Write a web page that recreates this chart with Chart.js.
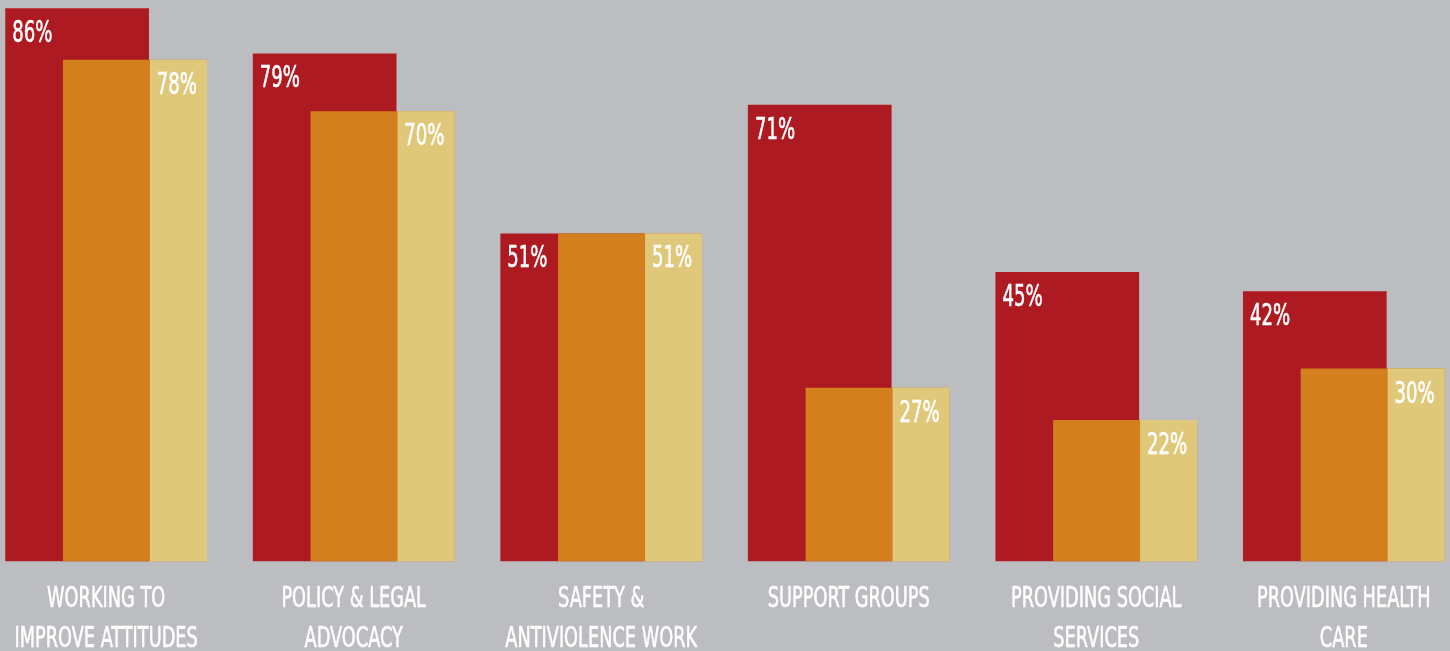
<!DOCTYPE html>
<html>
<head>
<meta charset="utf-8">
<script src="https://cdn.jsdelivr.net/npm/chart.js@4.4.1/dist/chart.umd.min.js"></script>
<style>
    html, body { margin: 0; padding: 0; background: #bcbdc0; overflow: hidden; }
    #wrap { width: 1450px; height: 651px; position: relative; }
</style>
</head>
<body>
<div id="wrap"><canvas id="servicesChart"></canvas></div>
<script>
const categories = [
    ['WORKING TO', 'IMPROVE ATTITUDES'],
    ['POLICY & LEGAL', 'ADVOCACY'],
    ['SAFETY &', 'ANTIVIOLENCE WORK'],
    ['SUPPORT GROUPS'],
    ['PROVIDING SOCIAL', 'SERVICES'],
    ['PROVIDING HEALTH', 'CARE']
];
const redValues = [86, 79, 51, 71, 45, 42];
const orangeValues = [78, 70, 51, 27, 22, 30];
const yellowValues = [78, 70, 51, 27, 22, 30];

const RED = '#ad1a21';
const ORANGE = '#d47f1d';
const YELLOW = '#e0c87a';

// half a group, in category units, so groups sit flush with the canvas edges
const X_MIN = -0.4288;
const X_MAX = 5.4289;

// each series gets its own hidden axis, shifted so the bars overlap like the original
function shiftedAxis(shift) {
    return {
        type: 'linear',
        display: false,
        offset: false,
        min: X_MIN - shift,
        max: X_MAX - shift,
        afterBuildTicks: s => { s.ticks = categories.map((c, i) => ({ value: i })); }
    };
}

function points(values) {
    return values.map((v, i) => ({ x: i, y: v }));
}

// draw text squeezed horizontally to mimic the condensed face
function condensedText(ctx, text, x, y, align, size, squeeze) {
    ctx.save();
    ctx.translate(x, y);
    ctx.scale(squeeze, 1);
    ctx.font = size + 'px "Liberation Sans Narrow", "DejaVu Sans Condensed", sans-serif';
    ctx.fillStyle = '#ffffff';
    ctx.strokeStyle = '#ffffff';
    ctx.lineWidth = 0.6;
    ctx.lineJoin = 'round';
    ctx.textAlign = align;
    ctx.textBaseline = 'alphabetic';
    ctx.fillText(text, 0, 0);
    ctx.strokeText(text, 0, 0); // a touch heavier, like the original
    ctx.restore();
}

const barTexts = {
    id: 'barTexts',
    afterDatasetsDraw(chart) {
        const ctx = chart.ctx;
        const redBars = chart.getDatasetMeta(0).data;
        const yellowBars = chart.getDatasetMeta(2).data;

        redBars.forEach((bar, i) => {
            condensedText(ctx, redValues[i] + '%', bar.x - bar.width / 2 + 7, bar.y + 34, 'left', 30, 0.67);
        });
        yellowBars.forEach((bar, i) => {
            condensedText(ctx, yellowValues[i] + '%', bar.x + bar.width / 2 - 10, bar.y + 34, 'right', 30, 0.67);
        });

        const xs = chart.scales.x;
        const top = chart.chartArea.bottom;
        categories.forEach((lines, i) => {
            const cx = xs.getPixelForValue(i);
            lines.forEach((line, j) => {
                condensedText(ctx, line, cx, top + 45 + j * 40, 'center', 29, 0.68);
            });
        });
    }
};

new Chart(document.getElementById('servicesChart'), {
    type: 'bar',
    data: {
        datasets: [
            {
                label: 'red',
                data: points(redValues),
                xAxisID: 'xRed',
                backgroundColor: RED,
                barPercentage: 0.5805,
                categoryPercentage: 1,
                grouped: false,
                order: 3
            },
            {
                label: 'orange',
                data: points(orangeValues),
                xAxisID: 'xOrange',
                backgroundColor: ORANGE,
                barPercentage: 0.5817,
                categoryPercentage: 1,
                grouped: false,
                order: 2
            },
            {
                label: 'yellow',
                data: points(yellowValues),
                xAxisID: 'xYellow',
                backgroundColor: YELLOW,
                barPercentage: 0.2303,
                categoryPercentage: 1,
                grouped: false,
                order: 1
            }
        ]
    },
    options: {
        responsive: true,
        maintainAspectRatio: false,
        animation: false,
        layout: { padding: { left: 0, right: 0, top: 0, bottom: 89.5 } },
        scales: {
            x: {
                type: 'linear',
                display: false,
                offset: false,
                min: X_MIN,
                max: X_MAX
            },
            xRed: shiftedAxis(-0.1172),
            xOrange: shiftedAxis(0.1165),
            xYellow: shiftedAxis(0.2923),
            y: { display: false, min: 0, max: 87.3 }
        },
        plugins: {
            legend: { display: false },
            tooltip: { enabled: false }
        }
    },
    plugins: [barTexts]
});
</script>
</body>
</html>
